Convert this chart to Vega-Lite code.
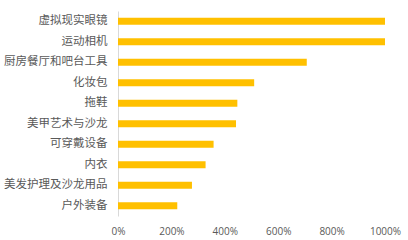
{
  "$schema": "https://vega.github.io/schema/vega-lite/v6.json",
  "width": 267,
  "height": 205,
  "autosize": {"type": "none"},
  "padding": {"left": 118, "top": 11, "right": 23, "bottom": 24},
  "background": "white",
  "data": {"values": [
    {"category": "虚拟现实眼镜", "value": 10.0},
    {"category": "运动相机", "value": 10.0},
    {"category": "厨房餐厅和吧台工具", "value": 7.07},
    {"category": "化妆包", "value": 5.1},
    {"category": "拖鞋", "value": 4.47},
    {"category": "美甲艺术与沙龙", "value": 4.42},
    {"category": "可穿戴设备", "value": 3.58},
    {"category": "内衣", "value": 3.28},
    {"category": "美发护理及沙龙用品", "value": 2.77},
    {"category": "户外装备", "value": 2.22}
  ]},
  "mark": {"type": "bar", "color": "#FFC000", "height": 7},
  "encoding": {
    "y": {"field": "category", "type": "nominal", "sort": null,
      "scale": {"paddingInner": 0.3, "paddingOuter": 0.15},
      "axis": {"title": null, "ticks": false, "labelFont": "Noto Sans CJK SC", "labelFontSize": 11.5, "labelColor": "#595959", "labelPadding": 11, "domainColor": "#d9d9d9", "domainWidth": 1, "grid": false}},
    "x": {"field": "value", "type": "quantitative",
      "scale": {"domain": [0, 10], "nice": false},
      "axis": {"title": null, "format": ".0%", "values": [0, 2, 4, 6, 8, 10], "ticks": false, "domain": false, "grid": false, "labelFlush": false, "labelFont": "Open Sans", "labelFontSize": 10, "labelColor": "#595959", "labelPadding": 10}}
  },
  "config": {"view": {"stroke": null}}
}
